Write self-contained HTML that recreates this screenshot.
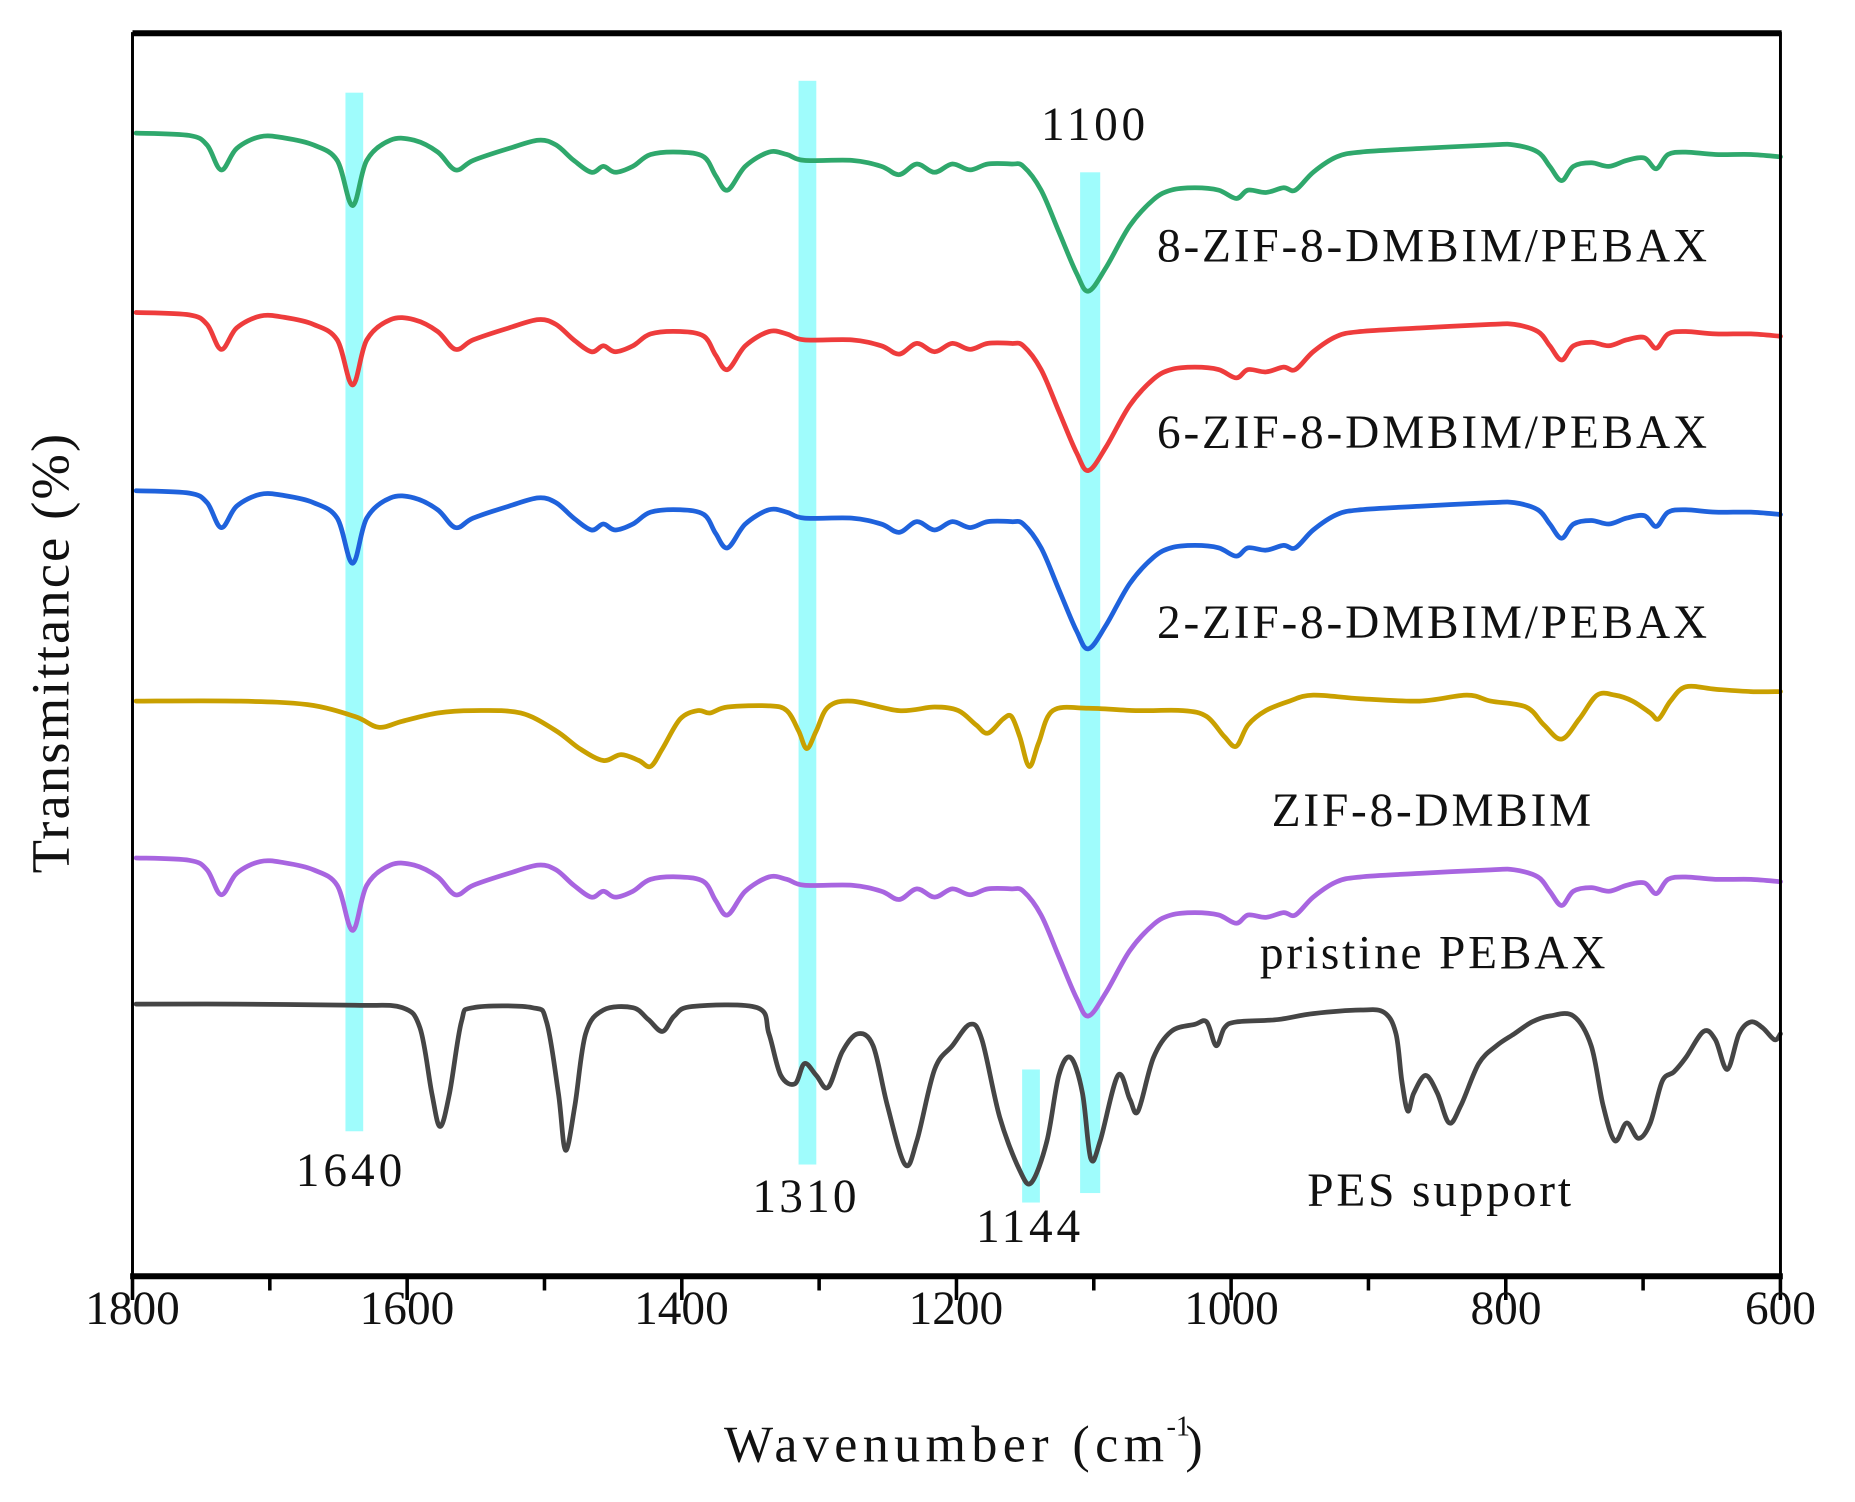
<!DOCTYPE html>
<html><head><meta charset="utf-8"><style>
html,body{margin:0;padding:0;background:#fff;}
svg{display:block;}
text{font-family:"Liberation Serif","DejaVu Serif",serif;fill:#111;}
</style></head><body>
<svg id="s" width="1855" height="1502" viewBox="0 0 1568 1264" preserveAspectRatio="none" xmlns="http://www.w3.org/2000/svg">
<rect width="1568" height="1264" fill="#fff"/>
<g fill="#9ffcfc">
<rect x="292" y="78" width="15" height="874"/>
<rect x="675" y="68" width="15" height="912"/>
<rect x="913" y="145" width="17" height="859"/>
<rect x="864" y="900" width="15" height="112"/>
</g>
<g id="curves" fill="none" stroke-width="4" stroke-linejoin="round" stroke-linecap="round"></g>
<line x1="112" y1="28" x2="1506" y2="28" stroke="#000" stroke-width="5"/>
<line x1="112" y1="27" x2="112" y2="1074" stroke="#000" stroke-width="2.5"/>
<line x1="1505" y1="27" x2="1505" y2="1074" stroke="#000" stroke-width="2.5"/>
<line x1="110" y1="1074" x2="1507" y2="1074" stroke="#000" stroke-width="5"/>
<g id="ticks" stroke="#000" stroke-width="3"></g>
<g font-size="40" text-anchor="middle">
<text x="112" y="1114">1800</text>
<text x="344" y="1114">1600</text>
<text x="576" y="1114">1400</text>
<text x="808" y="1114">1200</text>
<text x="1041" y="1114">1000</text>
<text x="1273" y="1114">800</text>
<text x="1505" y="1114">600</text>
</g>
<text x="612" y="1230" font-size="44" textLength="372">Wavenumber (cm</text>
<text x="986" y="1208" font-size="24">-1</text>
<text x="1002" y="1230" font-size="44">)</text>
<text transform="translate(58,550) rotate(-90)" font-size="46" text-anchor="middle" textLength="370">Transmittance (%)</text>
<g font-size="40">
<text x="880" y="118" textLength="88">1100</text>
<text x="250" y="998" textLength="90">1640</text>
<text x="636" y="1020" textLength="88">1310</text>
<text x="825" y="1045" textLength="88">1144</text>
<text x="978" y="220" textLength="465">8-ZIF-8-DMBIM/PEBAX</text>
<text x="978" y="377" textLength="465">6-ZIF-8-DMBIM/PEBAX</text>
<text x="978" y="537" textLength="465">2-ZIF-8-DMBIM/PEBAX</text>
<text x="1075" y="695" textLength="270">ZIF-8-DMBIM</text>
<text x="1065" y="815" textLength="292">pristine PEBAX</text>
<text x="1105" y="1015" textLength="223">PES support</text>
</g>
</svg>
<script>
var NS="http://www.w3.org/2000/svg";
var tk=document.getElementById("ticks");
for(var w=1800;w>=600;w-=100){var x=112+(1800-w)*1.1608;var l=document.createElementNS(NS,"line");
l.setAttribute("x1",x);l.setAttribute("x2",x);l.setAttribute("y1",1076);l.setAttribute("y2",w%200==0?1094:1086);tk.appendChild(l);}
function path(pts){var d="M"+pts[0][0]+","+pts[0][1];
for(var i=0;i<pts.length-1;i++){var p0=pts[i-1]||pts[i],p1=pts[i],p2=pts[i+1],p3=pts[i+2]||p2;
d+=" C"+(p1[0]+(p2[0]-p0[0])/6).toFixed(1)+","+(p1[1]+(p2[1]-p0[1])/6).toFixed(1)+" "+(p2[0]-(p3[0]-p1[0])/6).toFixed(1)+","+(p2[1]-(p3[1]-p1[1])/6).toFixed(1)+" "+p2[0]+","+p2[1];}
return d;}
function add(pts,col){var p=document.createElementNS(NS,"path");p.setAttribute("d",path(pts));p.setAttribute("stroke",col);document.getElementById("curves").appendChild(p);}
var G=[[115,112],[160,114],[175,122],[187,143],[200,125],[220,115],[240,116],[265,122],[285,135],[298,173],[310,135],[330,118],[350,118],[370,128],[385,143],[400,135],[430,125],[455,118],[470,122],[485,135],[500,145],[510,140],[520,145],[535,140],[550,130],[575,128],[595,132],[605,148],[615,160],[630,140],[650,128],[665,130],[680,135],[720,135],[745,140],[760,147],[775,138],[790,145],[805,138],[820,143],[835,138],[855,138],[865,140],[880,160],[895,195],[910,230],[920,245],[935,225],[955,190],[975,168],[990,160],[1010,158],[1030,160],[1045,167],[1055,160],[1070,162],[1085,158],[1095,160],[1110,145],[1130,132],[1150,128],[1200,125],[1260,122],[1280,122],[1300,128],[1310,140],[1320,152],[1330,140],[1345,137],[1360,140],[1375,135],[1390,133],[1400,142],[1410,130],[1425,128],[1450,130],[1480,130],[1505,132]];
function off(o){return G.map(function(p){return [p[0],p[1]+o];});}
add(G,"#2fa86c");
add(off(151),"#ee3c3c");
add(off(301),"#1f62dc");
add(off(610),"#a865e0");
add([[115,590],[200,590],[260,593],[300,603],[320,612],[340,607],[370,600],[400,598],[440,600],[470,615],[490,630],[510,640],[525,635],[540,640],[550,645],[560,630],[575,605],[590,598],[600,600],[615,595],[650,594],[665,598],[675,615],[682,630],[690,615],[700,595],[720,590],[760,598],[790,595],[810,598],[825,610],[835,617],[848,605],[855,603],[862,620],[870,645],[878,625],[890,598],[920,596],[960,598],[1000,598],[1020,603],[1035,620],[1045,628],[1055,610],[1070,598],[1090,590],[1110,585],[1150,588],[1200,590],[1240,585],[1260,590],[1290,595],[1305,610],[1320,622],[1335,605],[1350,585],[1365,585],[1380,590],[1395,600],[1402,605],[1412,590],[1425,578],[1450,580],[1480,582],[1505,582]],"#c9a000");
add([[115,845],[200,845],[300,846],[340,848],[355,865],[365,920],[372,948],[380,920],[390,860],[400,848],[450,848],[462,860],[472,920],[478,968],[486,930],[495,870],[510,850],[535,848],[548,858],[560,868],[570,855],[585,847],[640,848],[650,870],[660,905],[672,912],[680,895],[690,905],[700,915],[712,885],[725,870],[738,880],[750,930],[765,980],[775,960],[790,900],[805,880],[820,862],[830,875],[845,940],[862,985],[872,995],[885,960],[895,905],[905,890],[915,920],[922,975],[930,960],[945,905],[955,925],[962,935],[975,890],[990,868],[1010,862],[1020,860],[1028,880],[1035,865],[1045,860],[1080,858],[1110,853],[1150,850],[1170,852],[1180,870],[1185,910],[1190,935],[1195,920],[1205,905],[1215,920],[1225,945],[1235,930],[1250,895],[1265,880],[1280,870],[1295,860],[1310,855],[1330,855],[1345,880],[1355,930],[1365,960],[1375,945],[1385,958],[1395,945],[1405,910],[1415,902],[1425,890],[1440,868],[1450,875],[1460,900],[1470,870],[1480,860],[1490,865],[1500,875],[1505,870]],"#454545");
</script>
</body></html>
